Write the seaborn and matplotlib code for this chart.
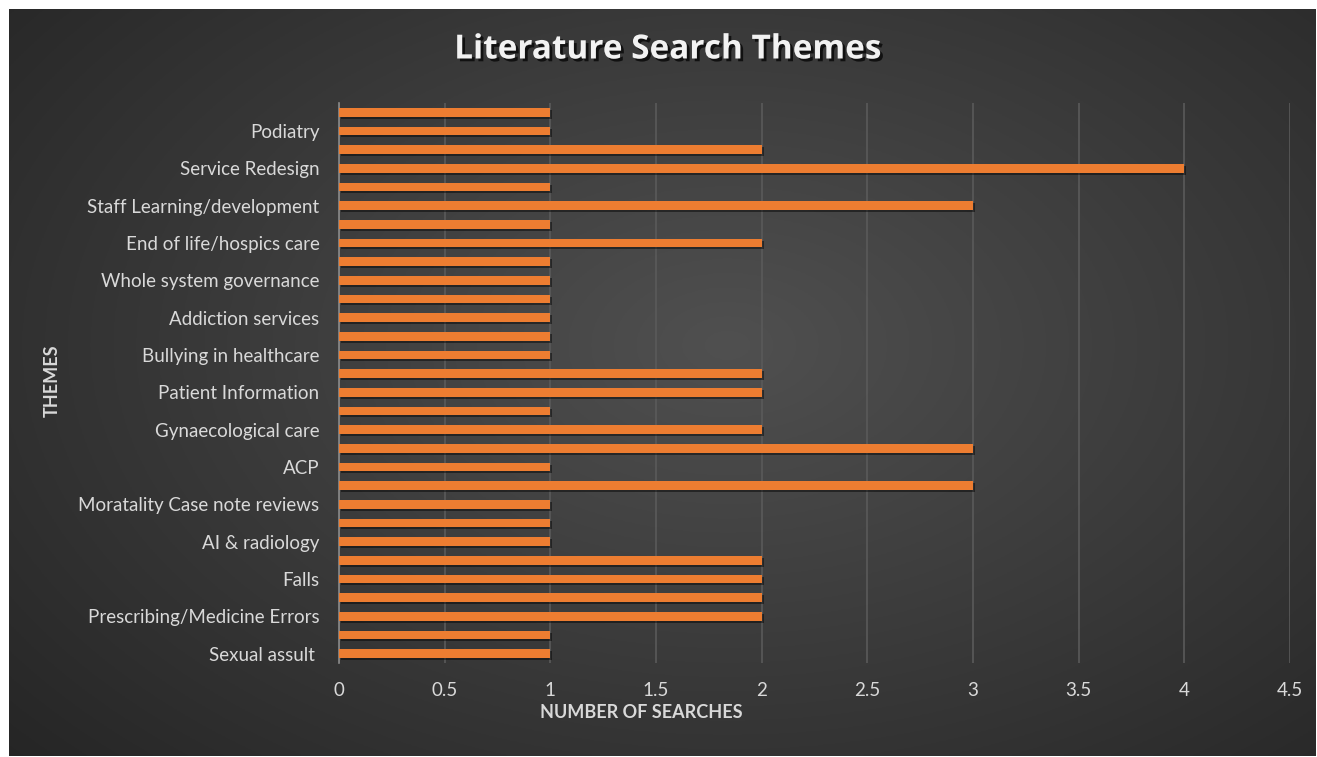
import numpy as np
import pandas as pd
import matplotlib
matplotlib.use("Agg")
import matplotlib.pyplot as plt
import matplotlib.patheffects as pe
import seaborn as sns

# ---- data (top to bottom as drawn) ----
visible_labels = ["Podiatry", "Service Redesign", "Staff Learning/development",
                  "End of life/hospics care", "Whole system governance",
                  "Addiction services", "Bullying in healthcare",
                  "Patient Information", "Gynaecological care", "ACP",
                  "Moratality Case note reviews", "AI & radiology", "Falls",
                  "Prescribing/Medicine Errors", "Sexual assult "]
values = [1, 1, 2, 4, 1, 3, 1, 2, 1, 1, 1, 1, 1, 1, 2,
          2, 1, 2, 3, 1, 3, 1, 1, 1, 2, 2, 2, 2, 1, 1]
x_ticks = [0, 0.5, 1, 1.5, 2, 2.5, 3, 3.5, 4, 4.5]
x_tick_labels = ["0", "0.5", "1", "1.5", "2", "2.5", "3", "3.5", "4", "4.5"]

slots = [f"slot{i}" for i in range(len(values))]
df = pd.DataFrame({"slot": slots, "searches": values})

sns.set_theme(style="white")
plt.rcParams['font.family'] = ['Lato', 'DejaVu Sans']

W, H = 1317, 757
fig = plt.figure(figsize=(W / 100, H / 100), dpi=100)
fig.patch.set_facecolor("white")

# background panel with radial gradient
bg = fig.add_axes([9 / W, 1 / H, (W - 10) / W, (H - 10) / H])
ny, nx = 300, 520
yy, xx = np.mgrid[0:1:ny * 1j, 0:1:nx * 1j]
r = np.sqrt(((xx - 0.55) * 1.0) ** 2 + ((yy - 0.45) * 0.9) ** 2)
r = np.clip(r / 0.75, 0, 1)
c_in = np.array([0x50, 0x50, 0x50]) / 255
c_out = np.array([0x25, 0x25, 0x25]) / 255
img = c_in[None, None, :] * (1 - r[..., None]) + c_out[None, None, :] * r[..., None]
bg.imshow(img, aspect="auto", extent=[0, 1, 0, 1], origin="upper")
bg.set_axis_off()

ax = fig.add_axes([339 / W, 1 - 663 / H, (1290 - 339) / W, (663 - 103) / H])
ax.set_facecolor("none")

sns.barplot(data=df, x="searches", y="slot", orient="h", color="#ED7D31",
            width=0.47, saturation=1, linewidth=0, ax=ax, zorder=3)
for p in ax.patches:
    p.set_edgecolor("none")
    p.set_linewidth(0)
    p.set_path_effects([pe.SimplePatchShadow(offset=(1.5, -1.5), shadow_rgbFace="black", alpha=0.45),
                        pe.Normal()])

ax.set_xlim(0, 4.5)
ax.set_ylim(len(values) - 0.5, -0.5)
ax.set_xticks(x_ticks)
ax.set_xticklabels(x_tick_labels)
ax.set_yticks(range(1, len(values), 2))
ax.set_yticklabels(visible_labels)
ax.tick_params(axis="both", length=0, colors="#d9d9d9", labelsize=13.5)
ax.tick_params(axis="x", pad=14)
ax.tick_params(axis="y", pad=14)
ax.xaxis.grid(True, color="#5a5a5a", linewidth=1.2, zorder=0)
ax.yaxis.grid(False)
ax.set_axisbelow(True)
for s in ["top", "right", "bottom"]:
    ax.spines[s].set_visible(False)
ax.spines["left"].set_color("#8a8a8a")
ax.spines["left"].set_linewidth(1.2)
ax.set_xlabel("")
ax.set_ylabel("")

fig.text(641 / W, 1 - 712 / H, "NUMBER OF SEARCHES", ha="center", va="center",
         fontsize=13, fontweight="bold", color="#d9d9d9")
fig.text(52 / W, 1 - 381 / H, "THEMES", ha="center", va="center", rotation=90,
         fontsize=13, fontweight="bold", color="#d9d9d9")
fig.text(668 / W, 1 - 50 / H, "Literature Search Themes", ha="center", va="center",
         fontsize=24, fontweight="bold", color="#f2f2f2",
         family=["Open Sans", "DejaVu Sans"],
         path_effects=[pe.SimplePatchShadow(offset=(2, -2), shadow_rgbFace="black", alpha=0.7),
                       pe.Normal()])

fig.savefig("out.png", dpi=100, facecolor=fig.get_facecolor())
